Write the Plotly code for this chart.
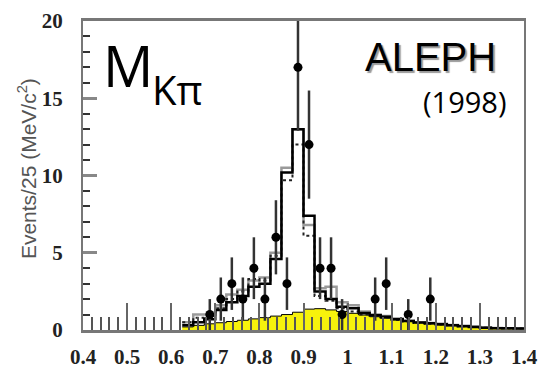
import plotly.graph_objects as go

# Measured K-pi invariant mass spectrum (25 MeV bins)
mass_centers = [0.6875, 0.7125, 0.7375, 0.7625, 0.7875, 0.8125, 0.8375, 0.8625,
                0.8875, 0.9125, 0.9375, 0.9625, 0.9875, 1.0625, 1.0875, 1.1375, 1.1875]
events = [1, 2, 3, 2, 4, 2, 6, 3, 17, 12, 4, 4, 1, 2, 3, 1, 2]
event_errors = [1.0, 1.4, 1.7, 1.4, 2.0, 1.4, 2.4, 1.7, 4.1, 3.5, 2.0, 2.0, 1.0, 1.4, 1.7, 1.0, 1.4]

# Histogram bin edges (0.625 .. 1.4 GeV, 25 MeV wide)
bin_edges = [0.625, 0.65, 0.675, 0.7, 0.725, 0.75, 0.775, 0.8, 0.825, 0.85, 0.875,
             0.9, 0.925, 0.95, 0.975, 1.0, 1.025, 1.05, 1.075, 1.1, 1.125, 1.15,
             1.175, 1.2, 1.225, 1.25, 1.275, 1.3, 1.325, 1.35, 1.375, 1.4]

background = [0.2, 0.3, 0.4, 0.47, 0.55, 0.63, 0.72, 0.8, 0.9, 1.0, 1.15, 1.35, 1.38,
              1.3, 1.2, 1.08, 0.97, 0.86, 0.76, 0.66, 0.56, 0.47, 0.4, 0.33, 0.28,
              0.23, 0.19, 0.13, 0.11, 0.1, 0.09]
model_gray = [0.5, 1.0, 1.0, 1.6, 2.3, 2.6, 3.2, 3.4, 5.0, 10.5, 13.0, 6.8, 2.7, 2.8,
              1.8, 1.6, 1.2, 1.0, 0.9, 0.75, 0.6, 0.5, 0.45, 0.4, 0.33, 0.27, 0.22,
              0.16, 0.13, 0.12, 0.1]
model_solid = [0.3, 0.5, 0.7, 1.3, 1.8, 2.2, 2.8, 3.0, 4.6, 10.2, 13.0, 7.4, 2.5, 2.0,
               1.5, 1.4, 1.1, 0.95, 0.85, 0.7, 0.58, 0.48, 0.43, 0.38, 0.3, 0.25, 0.2,
               0.15, 0.12, 0.11, 0.1]
model_dotted = [0.5, 0.8, 0.9, 1.4, 2.0, 2.5, 3.3, 3.2, 4.8, 9.7, 12.0, 6.1, 2.2, 1.9,
                1.4, 1.2, 1.0, 0.9, 0.8, 0.65, 0.55, 0.45, 0.4, 0.35, 0.3, 0.24, 0.2,
                0.14, 0.12, 0.1, 0.1]

x_tick_values = [0.4, 0.5, 0.6, 0.7, 0.8, 0.9, 1.0, 1.1, 1.2, 1.3, 1.4]
x_tick_labels = ["0.4", "0.5", "0.6", "0.7", "0.8", "0.9", "1", "1.1", "1.2", "1.3", "1.4"]
y_tick_values = [0, 5, 10, 15, 20]
y_tick_labels = ["0", "5", "10", "15", "20"]


def steps(values):
    """Return x/y arrays for an 'hv' step line over bin_edges."""
    return list(bin_edges), list(values) + [values[-1]]


fig = go.Figure()

bx, by = steps(background)
fig.add_trace(go.Scatter(x=bx, y=by, mode="lines", line=dict(shape="hv", color="black", width=1),
                         fill="tozeroy", fillcolor="#f7f20c", hoverinfo="skip"))

gx, gy = steps(model_gray)
fig.add_trace(go.Scatter(x=gx, y=gy, mode="lines",
                         line=dict(shape="hv", color="#9a9a9a", width=2.5)))

dx, dy = steps(model_dotted)
fig.add_trace(go.Scatter(x=dx, y=dy, mode="lines",
                         line=dict(shape="hv", color="#222", width=2, dash="dot")))

sx, sy = steps(model_solid)
fig.add_trace(go.Scatter(x=sx, y=sy, mode="lines",
                         line=dict(shape="hv", color="black", width=2.5)))

fig.add_trace(go.Scatter(
    x=mass_centers, y=events, mode="markers",
    marker=dict(symbol="circle", size=9, color="black"),
    error_y=dict(type="data", array=event_errors, width=0, thickness=2.5, color="#333"),
))

axis_font = dict(family="Liberation Serif", size=21, color="#222", weight="bold")

fig.update_xaxes(
    range=[0.4, 1.4], tickvals=x_tick_values, ticktext=x_tick_labels,
    ticks="inside", ticklen=27, tickwidth=2, tickcolor="#666",
    minor=dict(dtick=0.02, ticks="inside", ticklen=13, tickwidth=2, tickcolor="#555"),
    showgrid=False, zeroline=False, showline=True, linecolor="#777", linewidth=3,
    mirror=True, tickfont=axis_font, ticklabelstandoff=6, automargin=False,
)
fig.update_yaxes(
    range=[0, 20], tickvals=y_tick_values, ticktext=y_tick_labels,
    ticks="inside", ticklen=14, tickwidth=3, tickcolor="#888",
    minor=dict(dtick=1, ticks="inside", ticklen=7, tickwidth=2, tickcolor="#333"),
    showgrid=False, zeroline=False, showline=True, linecolor="#777", linewidth=2,
    mirror=True, tickfont=axis_font, ticklabelstandoff=14, automargin=False,
)

annotations = [
    dict(text="M", x=0.040, y=0.858, font=dict(family="Open Sans", size=56, color="black"),
         xanchor="left", yanchor="middle"),
    dict(text="K\u03c0", x=0.152, y=0.778, font=dict(family="Open Sans", size=40, color="black"),
         xanchor="left", yanchor="middle"),
    dict(text="ALEPH", x=0.941, y=0.882,
         font=dict(family="Liberation Sans", size=40, color="black", shadow="2px 2px 1px #9a9a9a"),
         xanchor="right", yanchor="middle"),
    dict(text="(1998)", x=0.964, y=0.739, font=dict(family="Open Sans", size=29, color="black"),
         xanchor="right", yanchor="middle"),
    dict(text="Events/25 (MeV/c<sup>2</sup>)", x=-0.127, y=0.524, textangle=-90,
         font=dict(family="Liberation Sans", size=21, color="#555"),
         xanchor="center", yanchor="middle"),
]
for a in annotations:
    a.update(xref="paper", yref="paper", showarrow=False)

fig.update_layout(
    width=548, height=373,
    margin=dict(l=83, r=24, t=21, b=43),
    paper_bgcolor="white", plot_bgcolor="white",
    showlegend=False, annotations=annotations,
)

fig.write_html("out.html")
